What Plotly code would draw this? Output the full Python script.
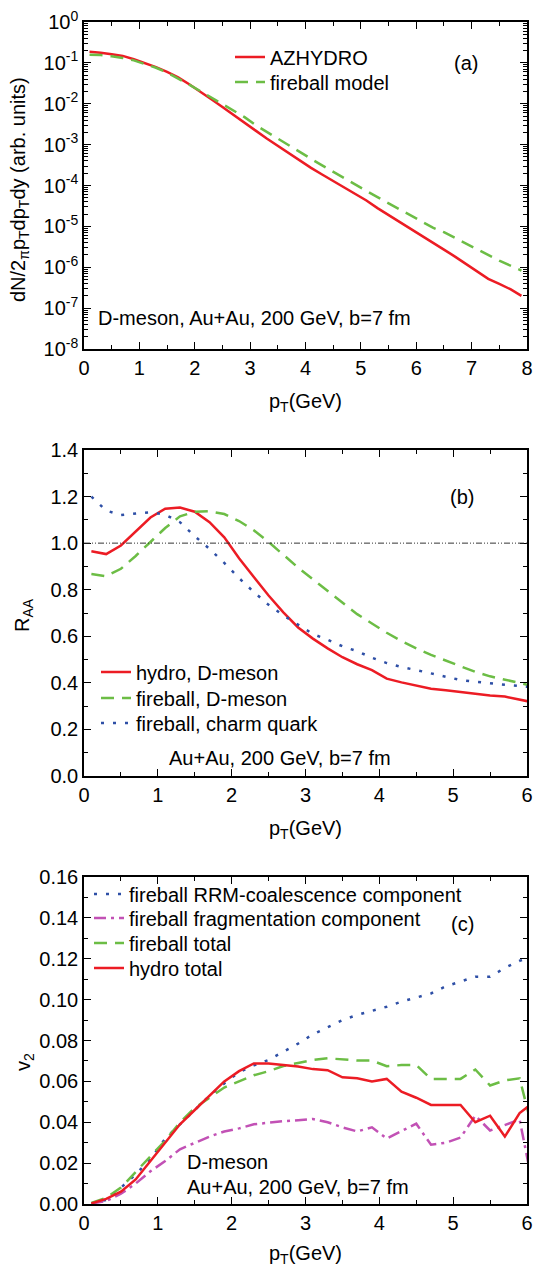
import plotly.graph_objects as go

# ---------------- data ----------------
# panel (a): pT spectra
pt_a = [0.1, 0.3, 0.5, 0.7, 0.9, 1.1, 1.3, 1.5, 1.7, 1.9,
        2.1, 2.3, 2.5, 2.7, 2.9, 3.1, 3.3, 3.5, 3.7, 3.9,
        4.1, 4.3, 4.5, 4.7, 4.9, 5.1, 5.3, 5.5, 5.7, 5.9,
        6.1, 6.3, 6.5, 6.7, 6.9, 7.1, 7.3, 7.5, 7.7, 7.9]
spec_hydro = [0.186, 0.178, 0.162, 0.148, 0.123, 0.100, 7.9e-2, 6.0e-2, 4.4e-2, 3.0e-2,
              2.0e-2, 1.29e-2, 8.3e-3, 5.4e-3, 3.4e-3, 2.2e-3, 1.41e-3, 9.3e-4, 6.0e-4, 4.0e-4,
              2.7e-4, 1.86e-4, 1.29e-4, 9.1e-5, 6.3e-5, 4.3e-5, 2.8e-5, 1.91e-5, 1.29e-5, 8.7e-6,
              5.9e-6, 4.0e-6, 2.7e-6, 1.82e-6, 1.20e-6, 7.9e-7, 5.2e-7, 3.9e-7, 2.9e-7, 2.0e-7]
spec_fireball = [0.158, 0.155, 0.145, 0.132, 0.115, 9.5e-2, 7.6e-2, 5.8e-2, 4.2e-2, 2.95e-2,
                 2.04e-2, 1.41e-2, 9.8e-3, 6.8e-3, 4.7e-3, 3.0e-3, 2.04e-3, 1.38e-3, 9.3e-4, 6.5e-4,
                 4.5e-4, 3.1e-4, 2.14e-4, 1.48e-4, 1.05e-4, 7.4e-5, 5.2e-5, 3.6e-5, 2.6e-5, 1.86e-5,
                 1.32e-5, 9.3e-6, 7.2e-6, 5.2e-6, 3.8e-6, 2.7e-6, 1.95e-6, 1.45e-6, 1.10e-6, 8.3e-7]
spec_tickvals = [1, 1e-1, 1e-2, 1e-3, 1e-4, 1e-5, 1e-6, 1e-7, 1e-8]
spec_ticktext = ["10<sup>0</sup>", "10<sup>-1</sup>", "10<sup>-2</sup>", "10<sup>-3</sup>",
                 "10<sup>-4</sup>", "10<sup>-5</sup>", "10<sup>-6</sup>", "10<sup>-7</sup>",
                 "10<sup>-8</sup>"]

# panel (b): R_AA
pt_b = [0.1, 0.3, 0.5, 0.7, 0.9, 1.1, 1.3, 1.5, 1.7, 1.9,
        2.1, 2.3, 2.5, 2.7, 2.9, 3.1, 3.3, 3.5, 3.7, 3.9,
        4.1, 4.3, 4.5, 4.7, 4.9, 5.1, 5.3, 5.5, 5.7, 5.9, 6.1]
raa_hydro_D = [0.965, 0.953, 0.990, 1.050, 1.110, 1.148, 1.153, 1.135, 1.090, 1.025,
               0.935, 0.855, 0.775, 0.703, 0.638, 0.590, 0.548, 0.510, 0.480, 0.455,
               0.418, 0.402, 0.390, 0.375, 0.368, 0.360, 0.353, 0.346, 0.341, 0.328, 0.315]
raa_fireball_D = [0.867, 0.858, 0.890, 0.945, 1.005, 1.065, 1.115, 1.135, 1.137, 1.125,
                  1.095, 1.055, 1.005, 0.950, 0.895, 0.845, 0.795, 0.745, 0.695, 0.655,
                  0.615, 0.580, 0.548, 0.520, 0.495, 0.470, 0.447, 0.428, 0.413, 0.400, 0.385]
raa_fireball_c = [1.200, 1.140, 1.121, 1.128, 1.133, 1.122, 1.090, 1.030, 0.975, 0.915,
                  0.850, 0.790, 0.735, 0.690, 0.650, 0.610, 0.585, 0.557, 0.536, 0.508,
                  0.485, 0.468, 0.455, 0.440, 0.425, 0.412, 0.405, 0.400, 0.392, 0.386, 0.380]

# panel (c): v2
pt_c = pt_b
v2_rrm = [0.0003, 0.002, 0.008, 0.0145, 0.022, 0.032, 0.039, 0.046, 0.053, 0.059,
          0.0645, 0.0678, 0.0705, 0.0745, 0.0785, 0.083, 0.0865, 0.090, 0.0925, 0.0945,
          0.0965, 0.099, 0.101, 0.103, 0.1065, 0.109, 0.1112, 0.1112, 0.1155, 0.119, 0.121]
v2_frag = [0.0002, 0.0015, 0.005, 0.010, 0.016, 0.021, 0.0268, 0.030, 0.033, 0.0355,
           0.037, 0.039, 0.0398, 0.0405, 0.041, 0.0416, 0.040, 0.0375, 0.0355, 0.0375,
           0.032, 0.0355, 0.0393, 0.029, 0.030, 0.0325, 0.0432, 0.036, 0.0385, 0.0413, 0.005]
v2_fireball = [0.0005, 0.003, 0.008, 0.0155, 0.023, 0.031, 0.040, 0.047, 0.052, 0.057,
               0.060, 0.063, 0.065, 0.0675, 0.069, 0.0705, 0.0713, 0.0706, 0.0702, 0.0702,
               0.0674, 0.068, 0.068, 0.0612, 0.0612, 0.0612, 0.0658, 0.058, 0.0605, 0.0615, 0.033]
v2_hydro = [0.0003, 0.0025, 0.006, 0.012, 0.021, 0.030, 0.039, 0.046, 0.053, 0.060,
            0.065, 0.0688, 0.0688, 0.068, 0.0673, 0.066, 0.0655, 0.062, 0.0615, 0.060,
            0.0612, 0.055, 0.052, 0.0485, 0.0485, 0.0485, 0.040, 0.0432, 0.033, 0.0445, 0.050]

# ---------------- styling ----------------
W, H = 542, 1267
FONT = "Liberation Sans, Arial, sans-serif"
RED = "#ec1c24"
GREEN = "#6cbd45"
BLUE = "#2e4fa6"
MAGENTA = "#c251b5"

def px_x(p):
    return p / W

def px_y(p):
    return 1 - p / H

X0, X1 = 84, 527
dom_x = [px_x(X0), px_x(X1)]

SOLID = dict(width=2.5)
DASH = dict(width=2.5, dash="13px,8px")
DOT = dict(width=2.5, dash="3px,9px")
DASHDOT = dict(width=2.5, dash="12px,5px,3px,5px")

# (x, y, name, color, style, xaxis, yaxis, legend id, legend x px, legend y px)
series = [
    (pt_a, spec_hydro, "AZHYDRO", RED, SOLID, "x", "y", "legend", 230, 57),
    (pt_a, spec_fireball, "fireball model", GREEN, DASH, "x", "y", "legend2", 230, 82),
    (pt_b, raa_hydro_D, "hydro, D-meson", RED, SOLID, "x2", "y2", "legend3", 96, 672),
    (pt_b, raa_fireball_D, "fireball, D-meson", GREEN, DASH, "x2", "y2", "legend4", 96, 698),
    (pt_b, raa_fireball_c, "fireball, charm quark", BLUE, DOT, "x2", "y2", "legend5", 96, 723),
    (pt_c, v2_rrm, "fireball RRM-coalescence component", BLUE, DOT, "x3", "y3", "legend6", 89, 894),
    (pt_c, v2_frag, "fireball fragmentation component", MAGENTA, DASHDOT, "x3", "y3", "legend7", 89, 918),
    (pt_c, v2_fireball, "fireball total", GREEN, DASH, "x3", "y3", "legend8", 89, 943),
    (pt_c, v2_hydro, "hydro total", RED, SOLID, "x3", "y3", "legend9", 89, 968),
]

fig = go.Figure()
legends = {}
for xs, ys, name, color, style, xa, ya, leg, lx, ly in series:
    fig.add_trace(go.Scatter(x=xs, y=ys, mode="lines", name=name,
                             line=dict(color=color, **style), xaxis=xa, yaxis=ya, legend=leg))
    legends[leg] = dict(x=px_x(lx), y=px_y(ly), xanchor="left", yanchor="middle",
                        bgcolor="rgba(0,0,0,0)", borderwidth=0,
                        font=dict(family=FONT, size=20, color="black"),
                        tracegroupgap=0, itemwidth=30)

# reference line R_AA = 1
fig.add_shape(type="line", xref="x2 domain", yref="y2", x0=0, x1=1, y0=1.0, y1=1.0,
              line=dict(color="#333333", width=1, dash="6px,2px,1px,2px,1px,2px"))

TF = dict(family=FONT, size=20, color="black")

def xax(anchor, rng):
    return dict(domain=dom_x, anchor=anchor, range=rng, dtick=1, tick0=0,
                automargin=False,
                ticks="inside", ticklen=7, tickwidth=1.2, tickcolor="black",
                mirror="allticks", showline=True, linecolor="black", linewidth=1.5,
                showgrid=False, zeroline=False,
                minor=dict(dtick=0.5, ticks="inside", ticklen=4, tickcolor="black", showgrid=False),
                tickfont=TF,
                title=dict(text="p<sub>T</sub>(GeV)", font=TF, standoff=16))

def yax(anchor, dom_px, **kw):
    d = dict(domain=[px_y(dom_px[1]), px_y(dom_px[0])], anchor=anchor, automargin=False,
             ticks="inside", ticklen=7, tickwidth=1.2, tickcolor="black",
             mirror="allticks", showline=True, linecolor="black", linewidth=1.5,
             showgrid=False, zeroline=False, tickfont=TF)
    d.update(kw)
    return d

layout = dict(
    width=W, height=H,
    margin=dict(l=0, r=0, t=0, b=0, autoexpand=False),
    paper_bgcolor="white", plot_bgcolor="white",
    font=dict(family=FONT, size=20, color="black"),
    xaxis=xax("y", [0, 8]),
    yaxis=yax("x", (22, 349), type="log", range=[-8, 0],
              tickvals=spec_tickvals, ticktext=spec_ticktext,
              minor=dict(ticks="inside", ticklen=4, tickcolor="black", dtick="D1", showgrid=False)),
    xaxis2=xax("y2", [0, 6]),
    yaxis2=yax("x2", (450, 776), range=[0, 1.4], dtick=0.2, tick0=0, tickformat=".1f",
               minor=dict(dtick=0.1, ticks="inside", ticklen=4, tickcolor="black", showgrid=False)),
    xaxis3=xax("y3", [0, 6]),
    yaxis3=yax("x3", (877, 1204), range=[0, 0.16], dtick=0.02, tick0=0, tickformat=".2f",
               minor=dict(dtick=0.01, ticks="inside", ticklen=4, tickcolor="black", showgrid=False)),
    showlegend=True,
)
layout.update(legends)
fig.update_layout(**layout)

# y-axis titles (rotated)
ytitles = [
    dict(text="dN/2<sub>π</sub>p<sub>T</sub>dp<sub>T</sub>dy (arb. units)", x=px_x(20), y=px_y(190)),
    dict(text="R<sub>AA</sub>", x=px_x(24), y=px_y(615)),
    dict(text="v<sub>2</sub>", x=px_x(24), y=px_y(1062)),
]
for a in ytitles:
    fig.add_annotation(xref="paper", yref="paper", showarrow=False, font=TF, textangle=-90,
                       xanchor="center", yanchor="middle", **a)

annotations = [
    dict(text="(a)", x=px_x(466), y=px_y(63)),
    dict(text="(b)", x=px_x(462), y=px_y(497)),
    dict(text="(c)", x=px_x(462), y=px_y(924)),
]
for a in annotations:
    fig.add_annotation(xref="paper", yref="paper", showarrow=False, font=TF,
                       xanchor="center", yanchor="middle", **a)
left_notes = [
    dict(text="D-meson, Au+Au, 200 GeV, b=7 fm", x=px_x(96), y=px_y(318)),
    dict(text="Au+Au, 200 GeV, b=7 fm", x=px_x(167), y=px_y(758)),
    dict(text="D-meson", x=px_x(185), y=px_y(1162)),
    dict(text="Au+Au, 200 GeV, b=7 fm", x=px_x(185), y=px_y(1187)),
]
for a in left_notes:
    fig.add_annotation(xref="paper", yref="paper", showarrow=False, font=TF,
                       xanchor="left", yanchor="middle", **a)

fig.write_html("out.html", config={"displayModeBar": False},
               post_script="document.body.style.margin='0px';")
